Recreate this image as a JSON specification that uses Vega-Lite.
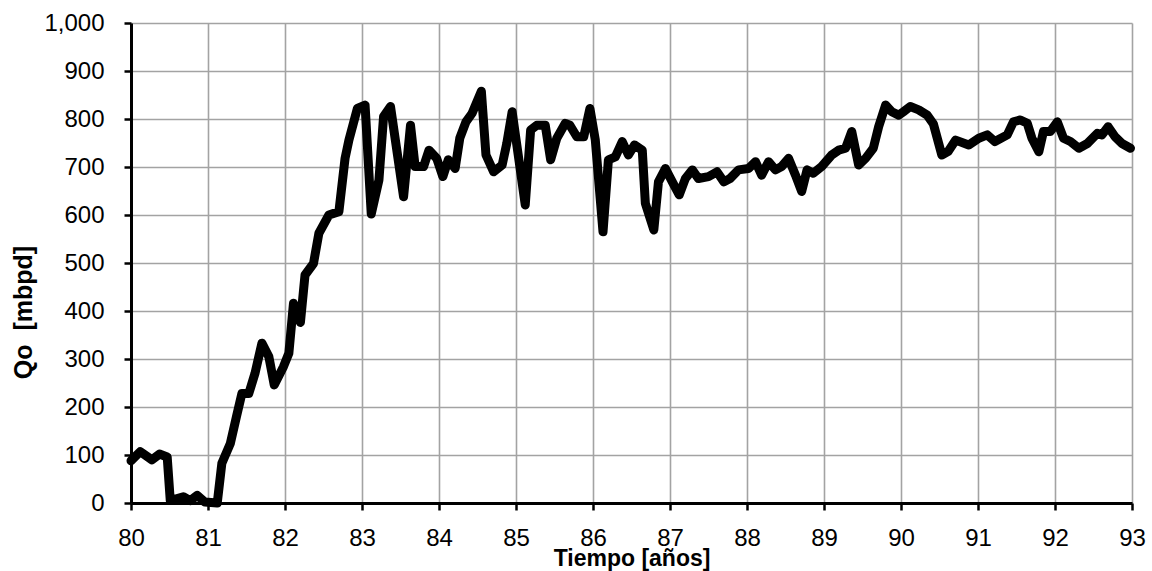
{
  "$schema": "https://vega.github.io/schema/vega-lite/v6.json",
  "width": 1001,
  "height": 480,
  "autosize": {"type": "none"},
  "padding": {"left": 131, "top": 23, "right": 20, "bottom": 68},
  "background": "white",
  "config": {
    "view": {"stroke": null},
    "font": "Liberation Sans"
  },
  "data": {
    "values": [
      {"t": 80.00, "q": 88}, {"t": 80.12, "q": 107}, {"t": 80.27, "q": 90}, {"t": 80.37, "q": 102},
      {"t": 80.47, "q": 96}, {"t": 80.51, "q": 5}, {"t": 80.68, "q": 13}, {"t": 80.77, "q": 5},
      {"t": 80.86, "q": 16}, {"t": 80.96, "q": 2}, {"t": 81.12, "q": 0}, {"t": 81.18, "q": 83},
      {"t": 81.29, "q": 124}, {"t": 81.37, "q": 180}, {"t": 81.44, "q": 228}, {"t": 81.53, "q": 228},
      {"t": 81.61, "q": 270}, {"t": 81.70, "q": 333}, {"t": 81.79, "q": 305}, {"t": 81.86, "q": 246},
      {"t": 81.98, "q": 284}, {"t": 82.05, "q": 312}, {"t": 82.11, "q": 416}, {"t": 82.20, "q": 376},
      {"t": 82.26, "q": 475}, {"t": 82.37, "q": 499}, {"t": 82.44, "q": 562}, {"t": 82.57, "q": 600},
      {"t": 82.70, "q": 607}, {"t": 82.78, "q": 718}, {"t": 82.83, "q": 756}, {"t": 82.94, "q": 822},
      {"t": 83.04, "q": 829}, {"t": 83.12, "q": 602}, {"t": 83.22, "q": 673}, {"t": 83.28, "q": 805},
      {"t": 83.37, "q": 826}, {"t": 83.54, "q": 638}, {"t": 83.63, "q": 787}, {"t": 83.69, "q": 701},
      {"t": 83.80, "q": 701}, {"t": 83.87, "q": 735}, {"t": 83.97, "q": 718}, {"t": 84.05, "q": 680},
      {"t": 84.12, "q": 715}, {"t": 84.21, "q": 697}, {"t": 84.27, "q": 760}, {"t": 84.35, "q": 794},
      {"t": 84.43, "q": 812}, {"t": 84.55, "q": 858}, {"t": 84.61, "q": 725}, {"t": 84.71, "q": 690},
      {"t": 84.82, "q": 704}, {"t": 84.88, "q": 749}, {"t": 84.95, "q": 815}, {"t": 85.12, "q": 621},
      {"t": 85.19, "q": 777}, {"t": 85.27, "q": 787}, {"t": 85.38, "q": 787}, {"t": 85.45, "q": 715},
      {"t": 85.53, "q": 760}, {"t": 85.64, "q": 791}, {"t": 85.70, "q": 787}, {"t": 85.79, "q": 763},
      {"t": 85.88, "q": 763}, {"t": 85.96, "q": 822}, {"t": 86.03, "q": 756}, {"t": 86.13, "q": 565},
      {"t": 86.20, "q": 715}, {"t": 86.29, "q": 721}, {"t": 86.38, "q": 753}, {"t": 86.46, "q": 725},
      {"t": 86.54, "q": 746}, {"t": 86.64, "q": 735}, {"t": 86.68, "q": 624}, {"t": 86.79, "q": 569},
      {"t": 86.85, "q": 669}, {"t": 86.94, "q": 697}, {"t": 87.03, "q": 669}, {"t": 87.12, "q": 642},
      {"t": 87.20, "q": 676}, {"t": 87.29, "q": 694}, {"t": 87.37, "q": 676}, {"t": 87.50, "q": 680},
      {"t": 87.61, "q": 690}, {"t": 87.70, "q": 669}, {"t": 87.78, "q": 676}, {"t": 87.89, "q": 694},
      {"t": 88.02, "q": 697}, {"t": 88.11, "q": 711}, {"t": 88.19, "q": 683}, {"t": 88.28, "q": 711},
      {"t": 88.37, "q": 694}, {"t": 88.45, "q": 701}, {"t": 88.54, "q": 718}, {"t": 88.63, "q": 683},
      {"t": 88.71, "q": 649}, {"t": 88.78, "q": 694}, {"t": 88.86, "q": 687}, {"t": 88.97, "q": 701},
      {"t": 89.10, "q": 725}, {"t": 89.19, "q": 735}, {"t": 89.28, "q": 739}, {"t": 89.36, "q": 774},
      {"t": 89.45, "q": 704}, {"t": 89.54, "q": 718}, {"t": 89.64, "q": 739}, {"t": 89.71, "q": 784},
      {"t": 89.80, "q": 829}, {"t": 89.88, "q": 815}, {"t": 89.97, "q": 808}, {"t": 90.03, "q": 815},
      {"t": 90.12, "q": 826}, {"t": 90.23, "q": 819}, {"t": 90.34, "q": 808}, {"t": 90.42, "q": 790},
      {"t": 90.53, "q": 725}, {"t": 90.61, "q": 732}, {"t": 90.71, "q": 756}, {"t": 90.88, "q": 746},
      {"t": 91.01, "q": 760}, {"t": 91.12, "q": 767}, {"t": 91.22, "q": 753}, {"t": 91.38, "q": 767},
      {"t": 91.46, "q": 794}, {"t": 91.55, "q": 798}, {"t": 91.64, "q": 791}, {"t": 91.70, "q": 760},
      {"t": 91.79, "q": 732}, {"t": 91.85, "q": 774}, {"t": 91.94, "q": 774}, {"t": 92.03, "q": 794},
      {"t": 92.11, "q": 760}, {"t": 92.20, "q": 753}, {"t": 92.31, "q": 739}, {"t": 92.42, "q": 749},
      {"t": 92.55, "q": 770}, {"t": 92.61, "q": 767}, {"t": 92.69, "q": 784}, {"t": 92.78, "q": 763},
      {"t": 92.87, "q": 749}, {"t": 92.98, "q": 739}
    ]
  },
  "mark": {"type": "line", "color": "black", "strokeWidth": 9, "strokeJoin": "round", "strokeCap": "round", "clip": false},
  "encoding": {
    "x": {
      "field": "t",
      "type": "quantitative",
      "scale": {"domain": [80, 93], "nice": false, "zero": false},
      "axis": {
        "title": "Tiempo [años]",
        "values": [80, 81, 82, 83, 84, 85, 86, 87, 88, 89, 90, 91, 92, 93],
        "format": "d",
        "labelFont": "Liberation Sans",
        "titleFont": "Liberation Sans",
        "labelFontSize": 24,
        "titleFontSize": 23,
        "labelColor": "black",
        "titleColor": "black",
        "titleFontWeight": "bold",
        "titleBaseline": "alphabetic",
        "titleY": 62,
        "domainColor": "black",
        "domainWidth": 3,
        "tickColor": "black",
        "tickWidth": 2.5,
        "tickSize": 7,
        "gridColor": "#a3a3a3",
        "gridWidth": 1.6,
        "gridOpacity": 1,
        "labelPadding": 16,
        "labelFlush": false
      }
    },
    "y": {
      "field": "q",
      "type": "quantitative",
      "scale": {"domain": [0, 1000], "nice": false},
      "axis": {
        "title": "Qo\u00a0\u00a0[mbpd]",
        "values": [0, 100, 200, 300, 400, 500, 600, 700, 800, 900, 1000],
        "format": ",.0f",
        "labelFont": "Liberation Sans",
        "titleFont": "Liberation Sans",
        "labelFontSize": 24,
        "titleFontSize": 25,
        "labelColor": "black",
        "titleColor": "black",
        "titleFontWeight": "bold",
        "titleBaseline": "middle",
        "titleX": -108,
        "titleY": 289,
        "domainColor": "black",
        "domainWidth": 3,
        "tickColor": "black",
        "tickWidth": 2.5,
        "tickSize": 7,
        "gridColor": "#a3a3a3",
        "gridWidth": 1.6,
        "gridOpacity": 1,
        "labelPadding": 20,
        "labelFlush": false
      }
    }
  }
}
